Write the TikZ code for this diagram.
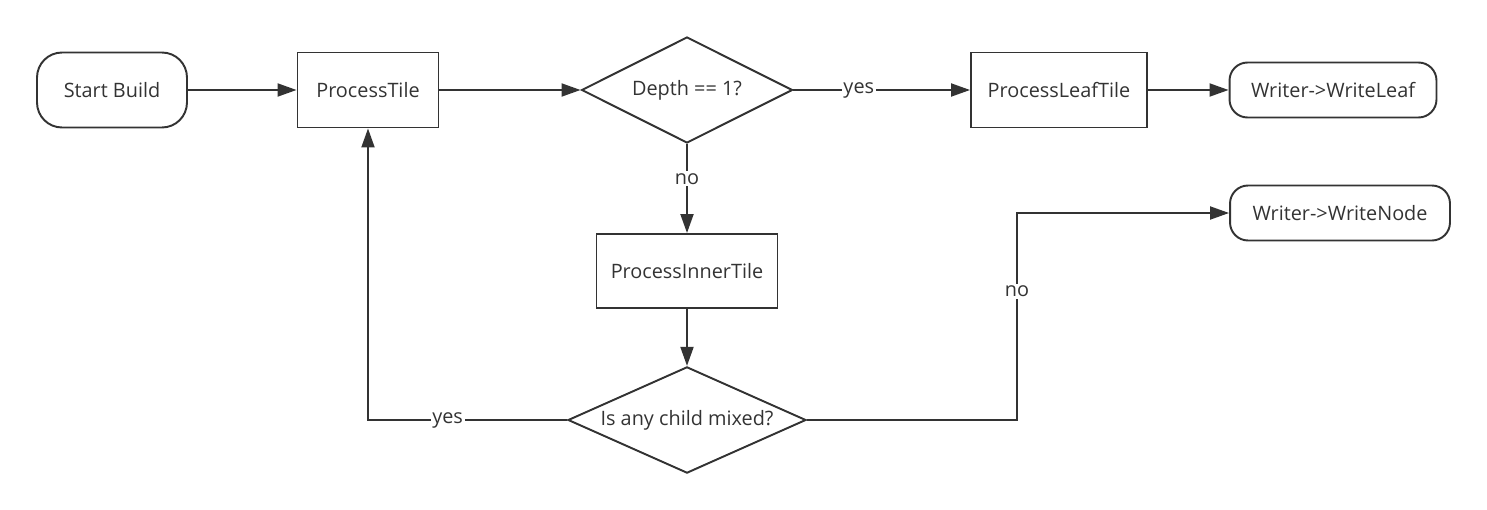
\documentclass[tikz,border=0pt]{standalone}
\usepackage{fontspec}
\setmainfont{Open Sans}
\usetikzlibrary{arrows.meta,shapes.geometric}
\definecolor{ink}{HTML}{333333}

\begin{document}
\begin{tikzpicture}[x=0.02cm, y=-0.02cm, font=\fontsize{11.3}{13}\selectfont, color=ink,
  line width=1.1pt,
  term/.style={draw, rounded corners=0.5cm, minimum height=1.5cm},
  proc/.style={draw, minimum height=1.5cm},
  dec/.style={draw, diamond, aspect=2, inner sep=0pt},
  arr/.style={-{Triangle[length=0.38cm, width=0.26cm]}},
  lbl/.style={fill=white, inner sep=1pt}]
\useasboundingbox (0,0) rectangle (1487,510);

\node[term, minimum width=3cm] (start) at (112,90) {Start Build};
\node[proc, minimum width=2.82cm] (tile) at (368,90) {ProcessTile};
\node[dec, minimum width=4.22cm, minimum height=2.12cm] (depth) at (687,90) {Depth == 1?};
\node[proc, minimum width=3.52cm] (leaf) at (1059,90) {ProcessLeafTile};
\node[term, rounded corners=0.36cm, minimum width=4.14cm, minimum height=1.1cm] (wleaf) at (1333,90) {Writer->WriteLeaf};
\node[proc, minimum width=3.62cm, minimum height=1.48cm] (inner) at (687,271) {ProcessInnerTile};
\node[dec, minimum width=4.76cm, minimum height=2.08cm] (mixed) at (687,420) {Is any child mixed?};
\node[term, rounded corners=0.36cm, minimum width=4.4cm, minimum height=1.1cm] (wnode) at (1340,213) {Writer->WriteNode};
\coordinate (turn) at (1017,420);

\draw[arr] (start) -- (tile);
\draw[arr] (tile) -- (depth);
\draw[arr] (depth) -- node[lbl, pos=0.37]{yes} (leaf);
\draw[arr] (leaf) -- (wleaf);
\draw[arr] (depth) -- node[lbl, pos=0.39]{no} (inner);
\draw[arr] (inner) -- (mixed);
% loop back when a child is mixed
\draw[arr] (mixed.west) -| node[lbl, pos=0.3]{yes} (tile.south);
\draw[arr] (mixed.east) -- (turn) |- node[lbl, pos=0.31]{no} (wnode.west);
\end{tikzpicture}
\end{document}
